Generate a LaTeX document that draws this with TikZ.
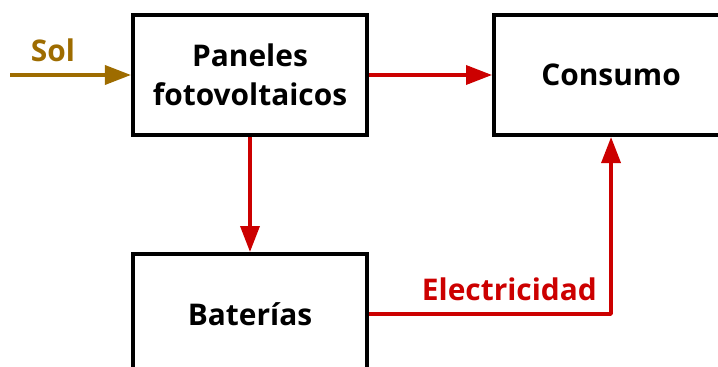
\documentclass[tikz,border=0pt]{standalone}
\usepackage{fontspec}
\setmainfont{Open Sans}
\usepackage{tikz}
\usetikzlibrary{arrows.meta,positioning,calc}

\definecolor{flowred}{RGB}{204,0,0}
\definecolor{sungold}{RGB}{158,108,0}

\begin{document}
\begin{tikzpicture}[
    node distance=2.46cm,
    box/.style={
        draw,
        line width=2.3pt,
        minimum width=4.68cm,
        minimum height=2.4cm,
        align=center,
        font=\fontsize{17}{22.5}\selectfont\bfseries
    },
    arrow/.style={-{Triangle[length=0.52cm,width=0.38cm]}, line width=2pt},
    flow/.style={arrow, draw=flowred},
    sun/.style={arrow, draw=sungold}
]
\useasboundingbox (0,0) rectangle (14.36,-7.34);
\clip (0,0) rectangle (14.36,-7.34);

\node[box] (panel) at (5.0,-1.5) {Paneles\\fotovoltaicos};
\node[box, right=of panel] (cons) {Consumo};
\node[box, below=2.3cm of panel] (bat) {Baterías};

\coordinate (sol) at (0.2,-1.5);
\draw[sun] (sol) -- (panel) node[midway, above=3pt, text=sungold,
    font=\fontsize{17}{20}\selectfont\bfseries, xshift=-0.35cm] {Sol};

\draw[flow] (panel) -- (cons);
\draw[flow] (panel) -- (bat);
\draw[flow, line join=round] (bat.east) -| (cons.south)
    node[pos=0.29, above=3pt, text=flowred,
    font=\fontsize{17}{20}\selectfont\bfseries] {Electricidad};
\end{tikzpicture}
\end{document}
